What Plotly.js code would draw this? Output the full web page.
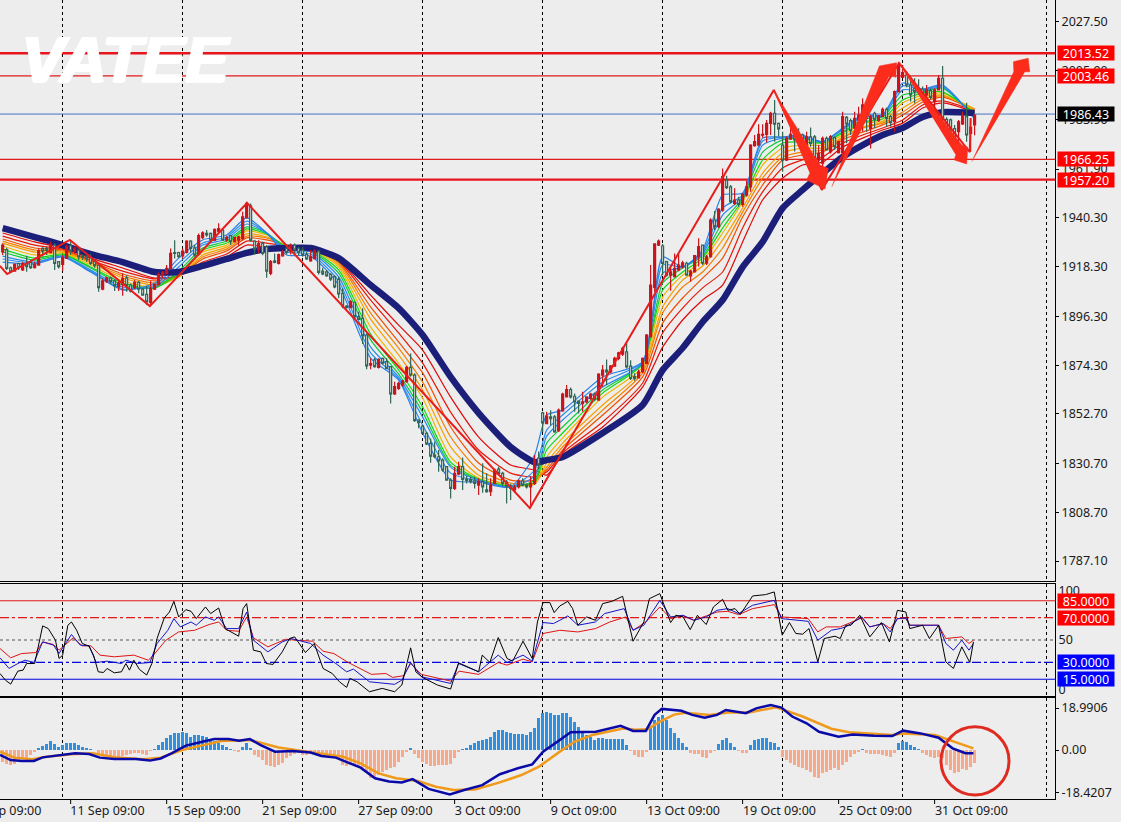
<!DOCTYPE html>
<html><head><meta charset="utf-8">
<script src="https://cdn.plot.ly/plotly-3.0.1.min.js"></script>
<style>html,body{margin:0;padding:0;background:#ededed;overflow:hidden}#c{width:1121px;height:822px}</style>
</head><body><div id="c"></div>
<script>
const open_=[1925,1926,1917.9,1916.4,1919.8,1916.9,1919.8,1920.3,1917.9,1919.1,
1926.5,1926.5,1924.7,1928,1920.6,1919.4,1922.1,1927.7,1925.3,1925.8,
1923.1,1922.8,1922.4,1920.6,1919.1,1908.4,1911.7,1913.4,1912,1909.4,
1910.5,1913.4,1910.2,1909,1911.4,1908.4,1906,1902.4,1908.4,1910.5,
1914.6,1915.4,1917.6,1924.7,1924.7,1923.2,1924.7,1929.8,1926.8,1923.8,
1931.3,1933.2,1933.2,1930.2,1934,1934.7,1930.2,1932.2,1929.5,1930.2,
1931,1940.2,1945.5,1929.8,1926.2,1928.7,1927.2,1915.4,1921,1919.8,
1923.2,1926.5,1925.3,1928,1926.5,1925.8,1923.8,1920.9,1922,1925.3,
1916.4,1916.1,1914.9,1913.9,1912.7,1906.5,1900.8,1900.2,1902.5,1896.1,
1895.3,1887.9,1874.5,1876.8,1873.5,1877.5,1876,1873.8,1861.6,1864.1,
1865.6,1867.1,1873.5,1870,1850,1847.3,1844,1839.6,1834.4,1833.6,
1832.1,1829.2,1823.2,1819.5,1825.9,1829.2,1823.5,1823.5,1822.9,1821,
1822.5,1818.8,1818,1821.7,1828.1,1826.2,1822.2,1820.5,1818.8,1820.2,
1822.8,1821,1820.2,1821.7,1833,1853.2,1848.4,1851.4,1851.4,1845.2,
1854.1,1860.3,1863.6,1860.6,1858.4,1857.4,1858.1,1859.6,1861.5,1858.9,
1870,1872.2,1871.5,1874,1877.5,1879.4,1880.4,1874,1869.3,1868.8,
1871.5,1875.2,1887.1,1909.1,1928,1927.6,1920.6,1914.6,1913.9,1916.9,
1918.3,1919.9,1914.3,1916.1,1922.8,1928,1919.9,1922.8,1939.2,1936.2,
1943.6,1957,1954,1946.6,1948.1,1946.2,1950.3,1954,1972.3,1972.6,
1977,1977.4,1982.3,1986.8,1982.3,1972.6,1965.9,1975.3,1977.8,1976.3,
1977.1,1972.9,1976.3,1976.3,1965.9,1964.5,1975.6,1969.7,1975.9,1969.2,
1969.2,1985,1983.5,1980.1,1983.8,1985.3,1990.5,1980,1986.8,1983.5,
1985.3,1988.5,1985.3,1983,1996.4,2002.8,2003.9,1999.4,1997.9,1997.5,
1997.5,1995,1996.9,1992,1997.2,2002.4,1984.1,1983.8,1980,1978.6,
1982,1985.3,1977.8,1981.6];
const high_=[1928.8,1926.8,1918.4,1919.8,1920.1,1920.6,1923.3,1921.3,1920.6,1926.5,
1927,1927.1,1929.5,1928.8,1920.9,1923.6,1928.3,1930.2,1927.3,1926.5,
1923.9,1923.6,1924.3,1921.8,1919.4,1913.1,1913.9,1913.9,1912.9,1912,
1915.4,1914.6,1910.9,1912.4,1912,1909,1909.9,1912,1910.9,1915.8,
1916.4,1919.1,1926.5,1930.2,1925,1926.5,1930.2,1930.2,1928,1933.2,
1934.2,1934.7,1933.6,1935.4,1937.7,1935.4,1932.2,1932.5,1931.7,1932.2,
1942.9,1947.3,1946.6,1930.2,1930.2,1929.5,1928,1921.3,1924.3,1924.3,
1925.8,1928,1928.7,1928.7,1927.2,1927.2,1925,1925.8,1926,1925.8,
1917.9,1916.9,1915.4,1914.6,1913.9,1908.7,1901.3,1903.5,1902.8,1898.3,
1899.8,1888.6,1877.5,1877.8,1877.5,1877.9,1877.5,1874.1,1867.1,1867.1,
1867.8,1874.1,1879.7,1870.8,1850.3,1847.8,1844.8,1841.8,1840.3,1836.6,
1832.9,1829.5,1824,1829.2,1831.4,1833.3,1825,1824.7,1824.7,1824,
1830.7,1826.2,1824,1828.4,1829.2,1826.9,1823.2,1821.7,1821,1823.5,
1824,1821.7,1825,1834.4,1836,1853.7,1853.7,1854.4,1852.2,1855.1,
1862.1,1865.6,1864.5,1861.8,1858.6,1862.6,1860.6,1862.1,1862.1,1870.8,
1874.5,1877,1874.5,1878.2,1880.4,1882.7,1884.1,1876.7,1870.8,1872.5,
1877.9,1888.3,1919.1,1928.7,1930.5,1928.5,1921,1918,1924.3,1924.3,
1921,1920.6,1916.9,1923.6,1931,1928.3,1923.6,1940,1943.2,1944.4,
1962.2,1958.9,1954.8,1953.3,1949.6,1951.1,1956.6,1973,1977.1,1981.9,
1981.9,1983.8,1987.5,1992.7,1982.7,1978.6,1976.4,1981.9,1981.5,1980.1,
1977.8,1978.6,1980.4,1977.1,1972.6,1976.4,1976.4,1977.1,1976.4,1974.4,
1987.5,1985.6,1984.5,1987.5,1989.7,1993.5,1991.2,1986,1987.5,1986,
1989.4,1989.4,1986,1996.9,2009.4,2008.3,2005.4,2001.6,2002.4,2002,
1998.7,1999.4,1997.9,1997.9,2003.9,2007.9,1985,1984.5,1981.5,1983.8,
1987.5,1991.5,1984.5,1986.4];
const low_=[1923.6,1916.9,1915.4,1916.1,1916.9,1916.4,1916.1,1917.3,1917.6,1918.8,
1922.8,1923.6,1924.3,1916.9,1917.6,1916.4,1921.8,1923.6,1924.3,1921.3,
1921.3,1920.6,1919.1,1917.9,1907.2,1907.9,1911.2,1910.8,1907.5,1907.5,
1905.4,1907.2,1906.9,1908.4,1906.5,1905.4,1901.3,1901,1908,1909.9,
1913.1,1914.9,1917.3,1922,1922.3,1922,1924.3,1924.7,1922.8,1923.2,
1930.7,1931.7,1929.8,1929.8,1933.6,1930.2,1929.5,1928,1929.2,1927.7,
1930.2,1939.9,1929.5,1923.8,1924.3,1923.5,1913.4,1914.6,1919.9,1919.4,
1922.8,1923.8,1923.8,1923.5,1923.5,1922.8,1921.3,1920.6,1921.7,1914.9,
1914.6,1913.9,1912,1908.7,1904.3,1899.8,1899.6,1899.8,1895.3,1894.6,
1883.9,1872.6,1872.6,1873.3,1873,1874.8,1872.6,1857.4,1861.1,1863.4,
1864.9,1866.6,1869.3,1849.2,1846.3,1843.7,1838.8,1830.9,1832.9,1826.9,
1826.9,1822.9,1815,1818.8,1825.4,1818.8,1821.7,1821.7,1819.5,1816.5,
1817.6,1817.6,1816.1,1821.4,1825.9,1820.5,1812.8,1814.3,1818,1819.5,
1820.5,1819.5,1811,1821,1828,1844.7,1848.1,1847.7,1844.3,1844.7,
1853.7,1860,1859.6,1853.7,1852.9,1853.7,1857.4,1858.9,1858.6,1858.6,
1864.8,1865.6,1870.8,1873.7,1876.7,1878.5,1873,1867.8,1867.5,1868.5,
1871,1874.9,1886.8,1907.2,1927.6,1914.6,1913.9,1907.6,1913.6,1916.3,
1917.6,1914.3,1911.7,1915.8,1918.4,1919.1,1919.1,1922.4,1934.7,1935.5,
1942.9,1953,1946.6,1945.9,1945.1,1945.1,1949.6,1951.8,1971.9,1972.3,
1975.9,1973.8,1977.1,1974.1,1976.4,1960.7,1965.5,1974.9,1969.7,1971.9,
1973,1972.6,1971.9,1965.9,1963.7,1959.3,1970.4,1968.9,1970.4,1968.9,
1968.2,1973.4,1977.1,1979.6,1983,1978.6,1978.6,1971.1,1980.1,1983,
1985,1980.8,1980.8,1978.6,1996,2002.4,1998.4,1992,1991.2,1995,
1993,1994.2,1993,1988.3,1996.9,1982.3,1979,1975.2,1974.9,1974.1,
1981.5,1974.1,1969.7,1977];
const close_=[1928,1917.6,1916.1,1919.4,1917.9,1919.8,1918.4,1917.9,1919.4,1925.5,
1925.3,1925.6,1928.3,1919.8,1918.4,1922.4,1927.3,1925.3,1926.5,1922.8,
1922.5,1921.8,1919.8,1918.8,1909,1912.1,1913.4,1911.7,1909.9,1911.2,
1913.1,1909.9,1907.5,1911.4,1908.4,1905.7,1902.7,1908.7,1910.5,1914.9,
1915.8,1917.6,1924.3,1924.3,1922.8,1925.3,1929.8,1926.5,1923.5,1932.2,
1933.5,1932.5,1930.2,1935,1935.4,1930.2,1931.3,1929.5,1931.3,1931.7,
1940.6,1946.6,1930.2,1926.2,1928.7,1924.3,1916.4,1920.6,1920.3,1923.8,
1925,1924.7,1928,1925.8,1924.7,1923.5,1921.8,1922.8,1925.3,1915.8,
1915.2,1914.3,1912.8,1909.4,1906.2,1900.8,1900.2,1902.8,1896.1,1894.9,
1887.5,1874.1,1875.1,1873.8,1877,1875.3,1873,1861.6,1864.9,1866.3,
1867.5,1873.5,1870,1849.7,1848.8,1844,1839.3,1833.9,1833.6,1831.8,
1827.7,1823.2,1819.5,1826.2,1829.2,1823.5,1822.9,1822.5,1821.7,1822.5,
1820.2,1818,1821,1827.7,1826.2,1821.7,1820.5,1819.5,1820,1822.9,
1821,1820.2,1821.7,1832.1,1830,1848.7,1851.7,1850.6,1844.7,1854.4,
1861.5,1863.6,1860.3,1858.1,1857.4,1858.1,1860.3,1861.5,1859.2,1870.5,
1872.2,1871.5,1874,1877.5,1880,1881.9,1873.7,1868.5,1868.5,1871.5,
1877.5,1887.9,1910.2,1928.5,1929.8,1919.8,1914.6,1916.1,1917.6,1919.1,
1920.1,1914.6,1916.4,1923.3,1927.3,1919.9,1922.8,1939.2,1936.2,1944.1,
1958.5,1953.6,1947.4,1948.1,1946.2,1950.6,1954,1972.6,1974.1,1977.4,
1977.4,1982.3,1986.8,1981.9,1979.8,1965.9,1975.6,1977.4,1974.9,1974.1,
1974.1,1976.3,1973.4,1967,1968.9,1975.6,1970.4,1976.4,1971.9,1974.1,
1985.3,1982,1979,1984.5,1986,1990.5,1984.5,1985.3,1984.1,1985.6,
1988.5,1984.5,1982.6,1996.4,2008.3,2004.9,1999.4,1995,1996.4,1996.4,
1995.7,1997.2,1993.9,1997.2,2002.4,1984.1,1980,1979,1975.6,1983,
1985.6,1977.1,1980.5,1986];

const ribbonBars=[0,8,15,22,30,38,44,50,56,61,66,71,77,84,92,99,105,112,119,127,133,136,140,150,160,165,170,175,180,185,190,195,200,205,210,215,220,225,230,235,243];
const navyLine=[1935.6,1931.6,1928,1924,1920.4,1916,1916,1918.7,1921.8,1924.5,1926.2,1926.7,1926.7,1922.2,1910.2,1899.9,1887.9,1869.2,1853.1,1838,1831.2,1832.1,1833.5,1844.2,1856.7,1872.3,1882.1,1893.7,1903.5,1918.2,1929.4,1944.5,1952.6,1960.1,1967.3,1972.6,1977.1,1980.2,1985.1,1987.3,1986.9];
const ribbon1=[1933.4,1929.4,1926.7,1922.2,1917.8,1913.3,1914.2,1919.1,1922.7,1928,1927.1,1927.1,1926.7,1921.3,1905.7,1892.3,1881.2,1860.2,1842.4,1829.9,1827.7,1825.4,1834.4,1846.9,1864.7,1882.5,1894.6,1903.5,1910.2,1929.4,1948.1,1957.9,1963.7,1965,1971.7,1975.7,1979.3,1982.4,1989.1,1991.4,1987.3];
const ribbon2=[1932,1928,1926.2,1921.3,1916.4,1912.9,1914.2,1920.4,1924,1929.8,1928.9,1927.6,1926.7,1920.9,1903.5,1888.8,1875.4,1853.5,1836.6,1826.3,1824.6,1826.8,1835.3,1849.1,1866.5,1888.8,1899.9,1908.9,1916,1935.6,1951.7,1962.4,1966,1967.3,1973.5,1977.1,1980.2,1983.8,1990.5,1992.3,1987.8];
const ribbon3=[1930.7,1926.7,1925.8,1920.9,1915.1,1912,1914.2,1921.8,1925.4,1931.2,1930.3,1928,1926.7,1920.4,1900.4,1884.8,1871,1846.9,1830.8,1823.2,1823.2,1827.7,1836.6,1852.2,1869.2,1893.2,1904.4,1913.3,1922.2,1940.5,1954.8,1966,1968.2,1969.5,1974.9,1978.4,1981.6,1986,1991.8,1994,1988.2];
const ribbon4=[1929.8,1925.8,1925.4,1920.4,1914.2,1911.1,1913.8,1922.7,1926.2,1932,1931.2,1928,1926.7,1920,1897.7,1882.1,1866.9,1842.4,1827.7,1821.9,1821.9,1829,1838,1854.4,1871,1897.7,1909.3,1916,1926.7,1942.7,1957.9,1967.3,1969.5,1970.4,1975.7,1980.2,1982.4,1987.3,1993.1,1994.5,1988.7];
const ribbon5=[1928.9,1924.9,1924.9,1920,1913.3,1910.2,1913.8,1923.6,1927.1,1933,1931.6,1928,1926.7,1919.1,1895,1879,1863.4,1838,1825.4,1821,1821.4,1830.8,1839.7,1856.7,1872.3,1900.4,1912.4,1918.7,1930.3,1944.5,1960.1,1969.1,1971.3,1971.3,1976.2,1980.7,1982.9,1989.1,1994,1994.9,1988.7];
const ribbon6=[1927.6,1923.6,1924.5,1919.1,1912,1909.3,1914.2,1924.9,1928,1934.3,1932.5,1927.6,1926.2,1918.2,1891.4,1875.4,1859.8,1833.5,1824.1,1820.5,1821.9,1833.5,1842,1860.2,1873.6,1904.8,1914.6,1920.9,1933.4,1947.2,1963.7,1971.3,1972.6,1972.6,1977.1,1982.4,1983.3,1991.4,1994.9,1995.8,1987.8];
const ribbon7=[1926.2,1922.2,1924,1918.2,1911.1,1908.9,1915.1,1925.8,1928.9,1935.2,1933,1927.1,1925.8,1916.9,1888.3,1872.3,1855.8,1831.2,1823.7,1820.5,1822.3,1836.6,1844.2,1862,1874.9,1908,1916,1922.2,1935.6,1948.1,1966,1973.5,1974,1973.5,1978,1982.9,1984.2,1992.7,1995.8,1996.3,1986.9];
const ribbon8=[1924.9,1921.3,1923.6,1917.8,1910.2,1908.9,1916.4,1926.7,1929.8,1936.1,1933.4,1926.7,1925.4,1915.5,1885.7,1870.5,1853.5,1829.9,1823.2,1820.1,1823.2,1839.7,1846.9,1863.4,1875.4,1911.1,1917.8,1923.1,1938.3,1949,1969.5,1974.9,1975.7,1973.5,1978.4,1984.2,1985.1,1994.9,1996.3,1998,1985.1];
const ribbon9=[1923.1,1920.4,1923.1,1916.9,1909.3,1909.3,1918.2,1928,1930.7,1937.4,1933.4,1925.8,1924.9,1913.8,1882.5,1869.2,1851.3,1829,1823.2,1820.1,1825,1842.8,1850,1864.7,1875.4,1915.5,1918.2,1924,1941.4,1949.4,1972.6,1975.7,1976.2,1974,1979.3,1985.1,1985.6,1997.2,1996.7,1998.5,1984.7];
const ribbon10=[1921.8,1920,1923.1,1916.4,1908.4,1910.2,1920,1928.9,1931.6,1938.7,1933.4,1924.9,1924,1912,1879.9,1868.3,1847.7,1826.3,1822.8,1820.1,1827.7,1845.5,1852.2,1866.9,1875.9,1919.1,1918.2,1924.9,1944.5,1950.3,1974.4,1976.2,1976.6,1974,1979.8,1985.6,1986,1999,1997.2,1999,1984.7];
const ribbon11=[1920.4,1919.6,1922.7,1916,1908,1911.1,1922.2,1930.3,1932.5,1940.1,1933.4,1923.6,1923.1,1910.2,1877.6,1867.8,1844.2,1823.2,1822.3,1820.1,1834.4,1852.2,1854.4,1869.2,1875.9,1922.7,1918.2,1925.8,1950.3,1951.2,1975.7,1976.2,1977.1,1974,1980.2,1986,1986,2000.3,1997.6,1999.4,1984.2];
const ribbonColors=['#e00808','#e81808','#f05000','#f58000','#f8a000','#f0b800','#10d810','#10c840','#2a88f0','#2a90f0','#2a80e8'];

const zigBars=[-0.7,1.1,16.8,36.8,61.1,131.8,192.8,204.8,224.1,241.8,242];
const zigPrice=[1918.7,1915.1,1930.3,1900.8,1946.8,1810.7,1997.2,1952.6,2009.2,1969.5,1984.7];

const arrow1Bars=[192.7,204.3,206.4,205.6,201,201.8], arrow1Price=[1997.2,1963.7,1962.2,1953,1957,1960];
const arrow2Bars=[207.3,218.1,219.2,223.5,223.3,221.8], arrow2Price=[1954,2002.4,2007.9,2009.3,2002.8,2003.9];
const arrow3Bars=[224.1,239.8,241.3,241,237.9,238.3], arrow3Price=[2009.1,1972.6,1971.6,1964.2,1966,1968.2];
const arrow4Bars=[242.3,252.8,252.7,256.4,256.8,255.6], arrow4Price=[1965.2,2005.3,2009.8,2011.3,2005.3,2005.3];

const priceLevels=[2013.52,2003.46,1986.43,1966.25,1957.20];
const priceLevelText=['2013.52','2003.46','1986.43','1966.25','1957.20'];
const priceLevelColor=['#e8161c','#e01c1c','#4472c4','#e01c1c','#e8161c'];
const priceLevelWidth=[2.4,1.2,1,1.2,2.4];
const priceBadgeColor=['#ff0000','#ff0000','#000000','#ff0000','#ff0000'];
const priceTicks=[2027.5,2005.9,1983.9,1961.9,1940.3,1918.3,1896.3,1874.3,1852.7,1830.7,1808.7,1787.1];
const priceTickText=['2027.50','2005.90','1983.90','1961.90','1940.30','1918.30','1896.30','1874.30','1852.70','1830.70','1808.70','1787.10'];

const rsiBlackBars=[-0.67,.67,2,3.8,5.1,6,8,10,11.4,13.2,14.1,15,16.3,17.2,18.5,19.9,21.6,22.7,23.9,25.2,26.1,27.9,29.7,30.8,31.7,32.8,34.2,36,37.3,38.6,40.4,41.7,42.8,44,45.8,47.1,48.4,50.7,52,54,55.6,59,60.1,61,62.7,64.5,65.9,67.6,69.9,71.7,73,75.7,77.9,80.1,82.4,84.2,86,86.8,88.6,91.7,94.9,98,99.8,102,103.3,105.1,108.7,112,114,119,119.9,121.8,123.9,126.1,127.5,130.1,132.4,133.7,135.1,136.8,137.9,139.3,141.3,142.5,143.8,146,148.2,150,152.3,155,157.6,160.3,161.7,164.3,167,168.3,170.1,171.9,173.7,175.9,177.7,180,181.3,183.1,184.4,187.5,190.7,192.9,194.9,196.7,198.3,200,201.6,203.8,205.4,208.1,209.4,210.8,212.1,214.3,216.8,219.7,221.7,223.7,225.8,226.8,230,231.7,234,235.8,237.7,239.8,241.8,242.7];
const rsiBlack=[20.1,14.2,10.6,22.2,23.1,29,29,62.6,60.2,49.8,33.5,36.5,63.2,66.1,58.7,46.9,44.5,36.5,21.6,21,24.6,20.7,21.6,29,23.1,32,23.7,18.7,29,51.3,69.7,75,84.5,70.6,77.1,75.6,69.1,79.5,73.6,78.6,60.2,53.4,78,82.5,40.9,39.4,29,28.2,39.4,51.3,52.8,38.8,46.9,24.6,20.1,12.7,7.7,15.7,12.7,3.8,6.8,3.8,9.8,43,21.6,16.3,9.8,6.2,29.6,21.6,36.5,30,52.2,33.5,31.1,48.9,33.5,66.1,83.4,83.4,74.5,80.4,84.5,78,63.2,70.6,67.6,82.5,84.5,89,48.9,66.1,86.9,91.4,65.6,72.1,70.6,59.3,72.1,63.8,79.5,86.3,76.5,78,72.7,89.3,90.5,92.9,54.3,65.6,55.8,55.2,60.2,30.5,51.3,53.4,51.3,63.2,63.2,72.1,52.8,65.6,48.3,76.5,75,60.2,63.2,51.3,63.2,30.5,24.6,43.9,29.9,48.3];
const rsiBlueBars=[-0.67,1.6,3.8,5.6,7.8,10,12.7,14.1,17.2,19.4,21.6,23.4,26.1,29.7,30.8,33.7,36.8,38.6,41.3,42.8,44.4,47.1,48.4,50.7,52.9,54,56,59,61,62.7,66.3,69.9,72.1,77,80.1,83.3,86,87.7,91.7,98,99.8,102,104.7,112,114,119,123.9,126.1,130.1,132.4,135.1,137.7,139.3,141.3,143.8,148.2,150.5,155.4,157.6,160.3,164.3,167,170.1,172.8,175.9,178.6,181.3,184,187.5,192.9,194.7,201.4,203.8,207.2,209.4,210.8,214.8,216.8,220.1,221.9,223.7,225.8,226.8,234,235.8,237.7,239.8,241.6,242.7];
const rsiBlue=[34.1,24.6,29,32,29.9,48.3,45.4,38,54.9,45.4,44.8,29.9,31.1,29,32,29,29.9,46.9,58.7,69.1,61.7,66.1,63.2,70.6,67.6,70.6,60.2,60.2,75,49.8,39.4,48.3,51.3,46.9,36.5,29,21.6,24,12.7,10.4,14.2,29.9,17.2,11.2,29,21.6,36.5,29.9,36.5,31.1,65.6,64.7,67.6,71.5,63.2,66.1,73.6,78,58.7,63.2,85.4,70.6,72.1,67.6,70.6,76.5,78,73.6,81,85.4,69.1,66.7,49.8,58.7,60.2,61.7,70.6,61.7,64.7,57.2,69.1,69.7,63.2,63.2,46.9,40.9,49.8,40.9,46.9];
const rsiRedBars=[-0.67,2,4.7,8.3,10,12.7,14.1,17.6,19.9,22.1,24.3,27.9,32.8,36.4,37.7,40.8,44,48,51.6,54,56,59,61,62.7,66.3,70.8,73.4,77.5,80.1,82.8,86.4,92.2,95.8,97.5,100.2,102,104.7,112,114.1,119,123.9,126.1,130.1,132.4,135.1,139.3,143.8,148.2,151.8,155.8,157.6,160.8,164.3,167,170.1,172.8,175.9,178.6,181.3,184,187.5,192.9,194.7,201.4,203.8,205.9,209.4,214.8,216.8,220.1,221.9,223.7,225.8,226.8,234,235.8,239.8,241.6,242.7];
const rsiRed=[42.4,34.1,37.9,38.8,48.3,46,40.9,51.9,44.8,44.8,36.5,35,36.5,32,36.5,49.8,57.2,58.7,63.8,66.1,58.7,57.8,70.6,51.9,43.9,50.7,49.8,48.9,40,37.9,29.9,19.3,20.1,16.6,18.1,29,19.3,13.3,22.2,19.3,29.9,27.6,32.9,30.5,55.8,58.7,57.2,60.2,66.1,70.6,58.7,66.1,79.5,69.1,71.5,67.6,71.5,75,75.6,72.7,78,81.6,70.6,69.1,57.2,61.7,61.7,69.7,61.7,64.7,60.2,69.1,69.1,63.2,63.2,51.3,52.8,46.9,49.8];
const rsiLevels=[85,70,50,30,15];
const rsiLevelColor=['#e01818','#e01818','#555555','#0000e0','#0000e0'];
const rsiLevelDash=['solid','dashdot','dot','dashdot','solid'];
const rsiBadgeLevels=[85,70,30,15];
const rsiBadgeText=['85.0000','70.0000','30.0000','15.0000'];
const rsiBadgeColor=['#ff0000','#ff0000','#0000ff','#0000ff'];

const macdHist=[-4.3,-5,-5.5,-5,-3.7,-3.4,-3,-2,-.8,.6,1.5,2.2,3.3,2.2,1.2,1.8,2.5,2.5,2.5,1.8,
1.2,.9,.4,.1,-1.2,-1.8,-2.2,-2.2,-2.5,-2.5,-2.2,-1.8,-1.5,-1.2,-1,-1.5,-1.8,-.4,.4,1.8,
3.1,4.3,5.5,6.1,6.4,6.7,6.1,4.9,5.5,5.5,5.1,4.7,3.7,3.4,2.7,1.8,1,.2,-.4,-.6,
1.2,2.7,.6,-1.8,-2.7,-3.7,-5.5,-5.9,-6.4,-5.5,-4.7,-3.1,-2.2,-1.5,-1.2,-1.8,-1.8,-1.5,-.6,-1.2,
-2.2,-2.7,-2.7,-3.1,-3.4,-5.5,-5.9,-5.5,-5.5,-5.9,-7.4,-8.6,-10.4,-10.4,-9.2,-8,-7.4,-6.7,-6.1,-4.3,
-2.5,-.6,.7,-1.5,-3.1,-4.3,-5.1,-5.8,-5.8,-5.6,-5.5,-5.5,-5.1,-3.1,-.6,.2,.7,1.8,2.7,3.4,
3.7,4,4.9,6.7,7.4,7.4,6.5,6.1,5.9,5.9,5.8,5.5,6.7,8,11.6,13.5,13.8,13.5,12.9,12.9,
13.5,13.7,12.3,10.4,8.3,6.7,5.5,4.9,3.7,4.3,4.3,4,4,4,4,4,1.8,-.2,-1.8,-2.7,
-2.5,-.6,8,11,12.3,12.9,11,8.2,6.1,4.5,2.5,1,-1.2,-1.5,-1.5,-2.7,-3.1,-1.2,-.4,2.2,
3.7,4.3,2.5,1.2,-.5,-1,-1.2,1.8,3.7,4,4.3,4.3,3.1,2.5,1.2,-2.7,-3.7,-4.7,-5.5,-6.4,
-6.7,-7.4,-8,-9.8,-10.2,-8.6,-8,-7.4,-6.7,-7.4,-5.5,-4.3,-2.5,-1.5,-.6,.2,-1,-1.5,-1.6,-1.5,
-1.8,-2.2,-2.5,-1,2.5,3.3,3.1,1.8,1,.2,-1,-1.8,-2.7,-3.1,-2.5,-3.1,-5.5,-7.4,-8.3,-8,
-7.1,-7.4,-6.1,-4.9];
const macdNavyBars=[-0.67,2,4.7,7.8,10,12.7,15.4,18.1,21.6,24.3,27.9,33.3,36.8,39.5,42.2,45.8,50.2,52.9,56.5,59.1,61.8,64.5,68.1,70.8,72.5,77,79.7,83.3,86,89.5,93.1,96.6,99.8,102.5,106.5,111.8,115.4,119.9,124.3,128.8,132.4,135.1,139.3,142,148.3,150.9,154.5,157.6,160.8,163,164.8,169.7,172.4,175.5,178.6,180.8,185.8,188.4,192,194.7,197.4,201,204.1,209,212.5,217.9,222.4,225.1,229.5,234,237.5,240.7,242.7];
const macdNavy=[-1.8,-3.7,-4,-4,-2.7,-2.2,-1.8,-1.2,-1.5,-2.8,-3.3,-3.3,-3.9,-3.1,-1.2,1.6,3.1,4,4,3.4,4,1.8,-.6,-.6,-.4,-.9,-2.2,-2.8,-4.5,-6.5,-10.4,-11.6,-11.9,-10.7,-14.3,-16.3,-14.7,-12.9,-8.9,-6.7,-5.3,-.6,3.7,6.5,6.7,7.6,8.9,7,7,12.9,15.1,14.4,12.9,11.9,12.9,14.7,13.5,15.3,16.5,15.6,12.3,9.8,6.7,4.9,5.7,5.2,5.1,7.1,6.1,4.5,.6,-1.2,-1.2];
const macdOrangeBars=[-0.67,2.9,7.4,11,17.2,22.5,27.9,35,39.5,44.9,50.2,54.7,61.8,69,76.1,85.1,89.5,94,98.4,103.8,108.3,112.7,118.1,124.3,129.7,134.1,139.3,142.9,147.4,155.4,158.1,161.2,164.3,167.9,170.6,176.8,181.3,186.6,193.4,200,207.2,211.6,222.4,225.1,233.1,236.6,242.7];
const macdOrange=[-.6,-2.8,-3.4,-2.5,-1.6,-1.2,-2.7,-3.4,-2.8,0,1.8,3.3,3.7,.9,-.6,-2.5,-4.9,-8.6,-10.4,-11.4,-13.5,-14.7,-14.5,-11.9,-9.2,-6.1,-.6,3,5.5,8,7.4,7.6,10.4,13,13.7,12.9,13.8,13.8,15.7,12.3,7.8,6.5,5.5,6.1,5.5,3.7,.6];

const timeTickBars=[-7,17,41,65,89,113,137,161,185,209,233];
const timeLabels=['7 Sep 09:00','11 Sep 09:00','15 Sep 09:00','21 Sep 09:00','27 Sep 09:00','3 Oct 09:00','9 Oct 09:00','13 Oct 09:00','19 Oct 09:00','25 Oct 09:00','31 Oct 09:00'];
const gridBars=[15,45,75,105,135,165,195,225,261];

const barsIdx=open_.map((_,i)=>i);
const xMin=-0.667, xMax=263.1;
const FONT='"Noto Sans", sans-serif';
const BG='#ededed';
const plotH=799, plotW=1055;
function frac(py){return (plotH-py)/plotH;}

const traces=[];
priceLevels.forEach((v,k)=>traces.push({type:'scatter',mode:'lines',x:[xMin,xMax],y:[v,v],xaxis:'x',yaxis:'y',line:{color:priceLevelColor[k],width:priceLevelWidth[k]},hoverinfo:'skip'}));
[ribbon1,ribbon2,ribbon3,ribbon4,ribbon5,ribbon6,ribbon7,ribbon8,ribbon9,ribbon10,ribbon11].forEach((r,k)=>traces.push({type:'scatter',mode:'lines',x:ribbonBars,y:r,xaxis:'x',yaxis:'y',line:{color:ribbonColors[k],width:1.2,shape:'spline',smoothing:.6},hoverinfo:'skip'}));
traces.push({type:'scatter',mode:'lines',x:ribbonBars,y:navyLine,xaxis:'x',yaxis:'y',line:{color:'#1c1f7a',width:6.5,shape:'spline',smoothing:.6},hoverinfo:'skip'});
traces.push({type:'candlestick',x:barsIdx,open:open_,high:high_,low:low_,close:close_,xaxis:'x',yaxis:'y4',whiskerwidth:0,
 increasing:{line:{color:'#c8141c',width:1.2},fillcolor:'#c8141c'},
 decreasing:{line:{color:'#2f6654',width:1.2},fillcolor:'#dfe8e2'},hoverinfo:'skip'});
traces.push({type:'scatter',mode:'lines',x:zigBars,y:zigPrice,xaxis:'x',yaxis:'y5',line:{color:'#e81c1c',width:2},hoverinfo:'skip'});
[[arrow1Bars,arrow1Price],[arrow2Bars,arrow2Price],[arrow3Bars,arrow3Price],[arrow4Bars,arrow4Price]].forEach(a=>traces.push({type:'scatter',mode:'lines',x:a[0],y:a[1],xaxis:'x',yaxis:'y5',fill:'toself',fillcolor:'#fb2c1c',line:{color:'#fb2c1c',width:.5},hoverinfo:'skip'}));

rsiLevels.forEach((v,k)=>traces.push({type:'scatter',mode:'lines',x:[xMin,xMax],y:[v,v],xaxis:'x2',yaxis:'y2',line:{color:rsiLevelColor[k],width:1.1,dash:rsiLevelDash[k]},hoverinfo:'skip'}));
traces.push({type:'scatter',mode:'lines',x:rsiRedBars,y:rsiRed,xaxis:'x2',yaxis:'y2',line:{color:'#e01414',width:1},hoverinfo:'skip'});
traces.push({type:'scatter',mode:'lines',x:rsiBlueBars,y:rsiBlue,xaxis:'x2',yaxis:'y2',line:{color:'#1414c8',width:1},hoverinfo:'skip'});
traces.push({type:'scatter',mode:'lines',x:rsiBlackBars,y:rsiBlack,xaxis:'x2',yaxis:'y2',line:{color:'#000000',width:1},hoverinfo:'skip'});

traces.push({type:'bar',x:barsIdx,y:macdHist,xaxis:'x3',yaxis:'y3',width:.7,marker:{color:macdHist.map(v=>v>=0?'#2f8fe0':'#f7a98a'),line:{width:0}},hoverinfo:'skip'});
traces.push({type:'scatter',mode:'lines',x:macdOrangeBars,y:macdOrange,xaxis:'x3',yaxis:'y3',line:{color:'#f09a1c',width:2.5},hoverinfo:'skip'});
traces.push({type:'scatter',mode:'lines',x:macdNavyBars,y:macdNavy,xaxis:'x3',yaxis:'y3',line:{color:'#0a0aa8',width:2.5},hoverinfo:'skip'});

const gridMinor={tickmode:'array',tickvals:gridBars,showgrid:true,gridcolor:'#000000',gridwidth:1,griddash:'3px,3px',ticks:''};
const labelCenters=timeTickBars.map((b,k)=>b+(timeLabels[k].length>11?9.2:8.25));
const tickFont={family:FONT,size:12.5,color:'#1a1a1a'};
const layout={
 width:1121,height:822,margin:{l:0,r:66,t:0,b:23},paper_bgcolor:BG,plot_bgcolor:BG,showlegend:false,bargap:0,dragmode:false,
 xaxis:{domain:[0,1],anchor:'y',range:[xMin,xMax],rangeslider:{visible:false},showgrid:false,zeroline:false,showline:true,linecolor:'#000',linewidth:1,showticklabels:false,ticks:'',minor:gridMinor},
 xaxis2:{domain:[0,1],anchor:'y2',range:[xMin,xMax],showgrid:false,zeroline:false,showline:true,mirror:true,linecolor:'#000',linewidth:1,showticklabels:false,ticks:'',minor:gridMinor},
 xaxis3:{domain:[0,1],anchor:'y3',range:[xMin,xMax],showgrid:false,zeroline:false,showline:true,mirror:true,linecolor:'#000',linewidth:1,tickmode:'array',tickvals:labelCenters,ticktext:timeLabels,ticks:'',tickangle:0,tickfont:tickFont,ticklabeloverflow:'allow',minor:gridMinor},
 yaxis:{domain:[frac(581),1],anchor:'x',side:'right',range:[1778.2,2037.3],showgrid:false,zeroline:false,showline:true,linecolor:'#000',linewidth:1,tickmode:'array',tickvals:priceTicks,ticktext:priceTickText,ticks:'outside',ticklen:3,tickcolor:'#000',tickfont:tickFont},
 yaxis2:{domain:[frac(696),frac(584)],anchor:'x2',side:'right',range:[0,100],showgrid:false,zeroline:false,showline:true,linecolor:'#000',linewidth:1,tickmode:'array',tickvals:[94.5,50,5.5],ticktext:['100','50','0'],ticks:'',tickfont:tickFont},
 yaxis3:{domain:[0,frac(698)],anchor:'x3',side:'right',range:[-18,19.1],showgrid:false,zeroline:false,showline:true,linecolor:'#000',linewidth:1,tickmode:'array',tickvals:[15.4,0,-15.5],ticktext:['18.9906','0.00','-18.4207'],ticks:'outside',ticklen:3,tickcolor:'#000',tickfont:tickFont},
 yaxis4:{overlaying:'y',anchor:'x',side:'right',range:[1778.2,2037.3],visible:false},
 yaxis5:{overlaying:'y',anchor:'x',side:'right',range:[1778.2,2037.3],visible:false},
 shapes:[{type:'circle',xref:'x3',yref:'y3',x0:234.6,x1:251.6,y0:-16.5,y1:8.5,line:{color:'#e02b20',width:3}}].concat(
  timeTickBars.slice(1).map(b=>({type:'line',xref:'x3',yref:'paper',x0:b,x1:b,y0:0,y1:-5/plotH,line:{color:'#000',width:1}}))),
 annotations:[{xref:'paper',yref:'paper',x:125/plotW,y:(plotH-59)/plotH,xanchor:'center',yanchor:'middle',showarrow:false,text:'<b><i>VATEE</i></b>',font:{family:'"Liberation Sans", sans-serif',size:65,color:'#ffffff',shadow:'1px 0 0 #fff, -1px 0 0 #fff, 0 1px 0 #fff, 2px 0 0 #fff'}}]
  .concat(priceLevels.map((v,k)=>({xref:'paper',yref:'y',x:1056.5/plotW,y:v,xanchor:'left',yanchor:'middle',showarrow:false,text:priceLevelText[k],width:56,height:14,align:'center',bgcolor:priceBadgeColor[k],borderpad:0,font:{family:FONT,size:12.5,color:'#ffffff'}})))
  .concat(rsiBadgeLevels.map((v,k)=>({xref:'paper',yref:'y2',x:1056.5/plotW,y:v,xanchor:'left',yanchor:'middle',showarrow:false,text:rsiBadgeText[k],width:56,height:14,align:'center',bgcolor:rsiBadgeColor[k],borderpad:0,font:{family:FONT,size:12.5,color:'#ffffff'}})))
};
Plotly.newPlot('c',traces,layout,{displayModeBar:false,staticPlot:true});
</script></body></html>
